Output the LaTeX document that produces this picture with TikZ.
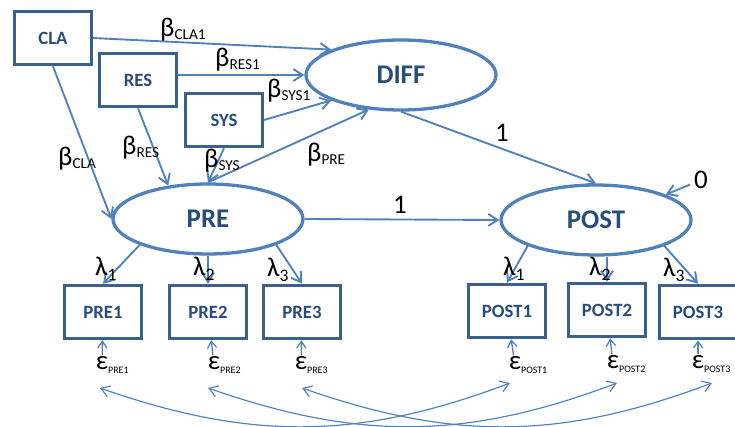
\documentclass[tikz,border=0pt]{standalone}
\usepackage{fontspec}
\setmainfont{Carlito}
\usepackage{xcolor}
\usetikzlibrary{arrows.meta,shapes.geometric,calc}
\definecolor{pathblue}{RGB}{79,129,189}
\definecolor{boxblue}{RGB}{58,96,144}
\definecolor{textblue}{RGB}{40,76,124}
\newcommand{\bsub}[1]{\raisebox{-2pt}{\fontsize{13}{13}\selectfont #1}}
\newcommand{\lsub}[1]{\raisebox{-5pt}{\fontsize{15}{15}\selectfont #1}}
\newcommand{\esub}[1]{\raisebox{-3pt}{\fontsize{8.5}{8.5}\selectfont #1}}

\begin{document}
\begin{tikzpicture}[
    x=0.03cm, y=-0.03cm,
    every node/.style={align=center},
    varbox/.style={rectangle, draw=boxblue, fill=white, line width=2.8pt, minimum width=2.3cm, minimum height=1.6cm, text=textblue, font=\fontsize{16}{18}\selectfont\bfseries},
    latent/.style={ellipse, draw=pathblue, fill=white, line width=2.8pt, minimum width=5.7cm, minimum height=2.1cm, text=textblue, font=\fontsize{23}{25}\selectfont\bfseries},
    coef/.style={font=\fontsize{23}{25}\selectfont, inner sep=0pt, anchor=base west},
    errlab/.style={font=\fontsize{23}{25}\selectfont, inner sep=1pt},
    arr/.style={-{Straight Barb[length=2.8mm,width=3.6mm]}, line width=1.6pt, draw=pathblue},
    earr/.style={-{Straight Barb[length=2mm,width=2.8mm]}, line width=1.1pt, draw=pathblue},
    cov/.style={{Straight Barb[length=2.6mm,width=3.4mm]}-{Straight Barb[length=2.6mm,width=3.4mm]}, line width=1pt, draw=pathblue}
]
\useasboundingbox (0,0) rectangle (735,427);

% exogenous boxes
\node[varbox] (cla) at (53,38) {CLA};
\node[varbox] (res) at (138,80) {RES};
\node[varbox] (sys) at (224,120) {SYS};

% latent variables
\node[latent] (diff) at (401,75) {DIFF};
\node[latent] (pre) at (208,219) {PRE};
\node[latent] (post) at (596,220) {POST};

% indicators
\node[varbox] (pre1) at (103,312) {PRE1};
\node[varbox] (pre2) at (208,312) {PRE2};
\node[varbox] (pre3) at (302,312) {PRE3};
\node[varbox] (post1) at (507,311) {POST1};
\node[varbox] (post2) at (607,310) {POST2};
\node[varbox] (post3) at (698,312) {POST3};

% errors
\node[errlab] (epre1) at (102,365) {ε\rlap{\esub{PRE1}}};
\node[errlab] (epre2) at (214,365) {ε\rlap{\esub{PRE2}}};
\node[errlab] (epre3) at (301,365) {ε\rlap{\esub{PRE3}}};
\node[errlab] (epost1) at (515,365) {ε\rlap{\esub{POST1}}};
\node[errlab] (epost2) at (613,364) {ε\rlap{\esub{POST2}}};
\node[errlab] (epost3) at (698,364) {ε\rlap{\esub{POST3}}};
\coordinate (cpre1) at (100,388);
\coordinate (cpre2) at (208,388);
\coordinate (cpre3) at (302,388);
\coordinate (cpost1) at (510,383);
\coordinate (cpost2) at (617,383);
\coordinate (cpost3) at (712,383);

% structural paths
\draw[arr] (cla.east) -- (diff.160);
\draw[arr] (res.east |- diff.west) -- (diff.west);
\draw[arr] (sys.east) -- (diff.200);
\draw[arr] (cla.south) -- (pre.west);
\draw[arr] (res.south) -- (pre.140);
\draw[arr] (sys.south) -- (pre.north);
\draw[arr] (pre.north) -- (diff.227);
\draw[arr] (diff.south) -- (post.north);
\draw[arr] (pre.east) -- (post.west);
\node[font=\fontsize{23}{25}\selectfont] (zero) at (701,180) {0};
\draw[arr] (zero) -- (post.20);

% loadings
\draw[arr] (pre.south west) -- (pre1.north);
\draw[arr] (pre.south) -- (pre2.north);
\draw[arr] (pre.south east) -- (pre3.north);
\draw[arr] (post.south west) -- (post1.north);
\draw[arr] (post2.north |- post.south) -- (post2.north);
\draw[arr] (post.south east) -- (post3.north);

% error paths
\draw[earr] (epre1) -- (pre1);
\draw[earr] (epre2) -- (pre2);
\draw[earr] (epre3) -- (pre3);
\draw[earr] (epost1) -- (post1);
\draw[earr] (epost2) -- (post2);
\draw[earr] (epost3) -- (post3);
\draw[cov] (cpre1) to[bend right=20] (cpost1);
\draw[cov] (cpre2) to[bend right=20] (cpost2);
\draw[cov] (cpre3) to[bend right=20] (cpost3);

% coefficients
\node[coef] (bcla1) at (160,37) {β\bsub{CLA1}};
\node[coef] (bres1) at (215,67) {β\bsub{RES1}};
\node[coef] (bsys1) at (267,98) {β\bsub{SYS1}};
\node[coef] (bcla) at (58,166) {β\bsub{CLA}};
\node[coef] (bres) at (122,155) {β\bsub{RES}};
\node[coef] (bsys) at (204,168) {β\bsub{SYS}};
\node[coef] (bpre) at (307,162) {β\bsub{PRE}};
\node[coef] (lpre1) at (95,275) {λ\lsub{1}};
\node[coef] (lpre2) at (193,275) {λ\lsub{2}};
\node[coef] (lpre3) at (267,276) {λ\lsub{3}};
\node[coef] (lpost1) at (503,275) {λ\lsub{1}};
\node[coef] (lpost2) at (589,275) {λ\lsub{2}};
\node[coef] (lpost3) at (663,276) {λ\lsub{3}};
\node[font=\fontsize{23}{25}\selectfont] (one1) at (502,133) {1};
\node[font=\fontsize{23}{25}\selectfont] (one2) at (400,205) {1};

\end{tikzpicture}
\end{document}
